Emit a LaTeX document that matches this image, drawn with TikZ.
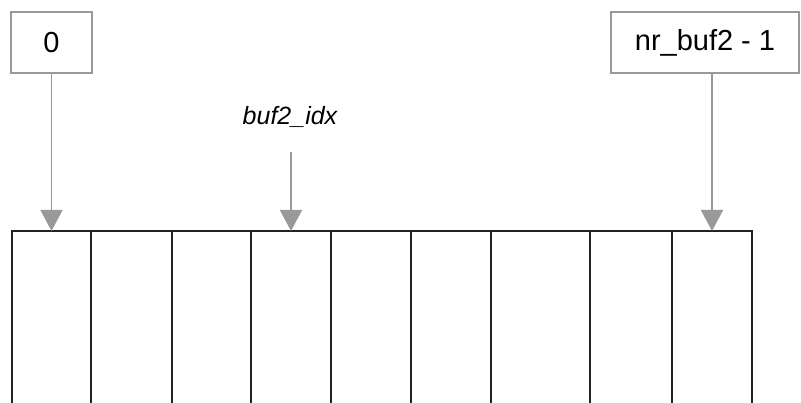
\documentclass[tikz,border=0pt]{standalone}
\usepackage{fontspec}
\setmainfont{Liberation Sans}
\usetikzlibrary{arrows.meta}
\definecolor{boxgray}{HTML}{999999}
\definecolor{arrgray}{HTML}{999999}
\definecolor{bufline}{HTML}{222222}
\tikzset{
  idxbox/.style={draw=boxgray, line width=1.3pt, minimum height=61pt, inner sep=0pt, font=\fontsize{29}{32}\selectfont},
  ptr/.style={draw=arrgray, line width=1.5pt, -{Triangle[width=22pt,length=21pt]}, arrgray},
  cellline/.style={draw=bufline, line width=1.5pt}
}
\begin{document}
\begin{tikzpicture}[x=1pt,y=-1pt]
\useasboundingbox (0,0) rectangle (801,403);
% buffer cell tops
\foreach \n/\x in {1/51.5,2/131.5,3/211.5,4/291,5/371,6/451,7/540.5,8/631,9/712}{
  \coordinate (c\n) at (\x,231);
}
\draw[cellline] (12,403) -- (12,231) -- (752,231) -- (752,403);
\foreach \x in {91,172,251,331,411,491,590,672}{
  \draw[cellline] (\x,231) -- (\x,403);
}
\node[idxbox, minimum width=81pt] (b0) at (51.5,42.5) {0};
\node[idxbox, minimum width=188pt] (b1) at (705,42.5) {nr\_buf2 - 1};
\node[font=\fontsize{25}{28}\selectfont\itshape] (idx) at (290,117) {buf2\_idx};
\coordinate (idxtop) at (291,152);
\draw[ptr] (b0.south) -- (c1);
\draw[ptr] (c9 |- b1.south) -- (c9);
\draw[ptr] (idxtop) -- (c4);
\end{tikzpicture}
\end{document}
